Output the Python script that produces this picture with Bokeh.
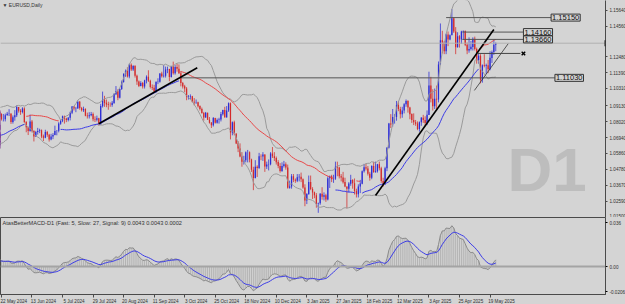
import numpy as np
from bokeh.plotting import figure
from bokeh.layouts import column
from bokeh.models import Range1d, FixedTicker, Label, Span
from bokeh.embed import file_html
from bokeh.resources import INLINE

# ---------------- data: EURUSD daily ----------------
# warm-up bars (8 Apr - 21 May 2024), left of the visible window
warm_high = [1.0868,1.0885,1.0866,1.0756,1.0734,1.0668,1.0638,1.0690,1.0690,1.0678,1.0666,1.0713,1.0733,1.0752,1.0737,1.0730,
             1.0728,1.0720,1.0730,1.0812,1.0790,1.0780,1.0760,1.0790,1.0804,1.0799,1.0826,1.0887,1.0895,1.0879,1.0889,1.0866]
warm_low = [1.0826,1.0838,1.0728,1.0698,1.0622,1.0622,1.0601,1.0610,1.0635,1.0610,1.0624,1.0635,1.0688,1.0695,1.0675,1.0680,
            1.0663,1.0650,1.0680,1.0722,1.0755,1.0745,1.0722,1.0722,1.0758,1.0765,1.0775,1.0815,1.0853,1.0840,1.0848,1.0835]
warm_close = [1.0860,1.0857,1.0742,1.0727,1.0642,1.0625,1.0620,1.0672,1.0643,1.0655,1.0655,1.0703,1.0730,1.0730,1.0693,1.0720,
              1.0665,1.0712,1.0727,1.0760,1.0770,1.0754,1.0748,1.0782,1.0770,1.0790,1.0820,1.0880,1.0865,1.0870,1.0857,1.0855]
first_open = 1.0837

# visible bars, index 0 = 22 May 2024
high = [1.0861,1.0856,1.0859,1.0870,1.0889,1.0862,1.0846,1.0882,1.0915,1.0903,1.0889,1.0902,1.0902,1.0805,1.0770,1.0852,
        1.0815,1.0745,1.0740,1.0761,1.0755,1.0750,1.0715,1.0748,1.0740,1.0720,1.0720,1.0725,1.0776,1.0745,1.0800,1.0816,
        1.0845,1.0845,1.0830,1.0835,1.0871,1.0910,1.0910,1.0904,1.0948,1.0945,1.0904,1.0906,1.0895,1.0865,1.0868,1.0870,
        1.0866,1.0840,1.0845,1.0830,1.0925,1.1009,1.0980,1.0955,1.0940,1.0935,1.0945,1.0998,1.1047,1.1025,1.1030,1.1085,
        1.1135,1.1160,1.1175,1.1200,1.1202,1.1190,1.1190,1.1125,1.1085,1.1080,1.1075,1.1090,1.1120,1.1155,1.1090,1.1058,
        1.1055,1.1080,1.1100,1.1135,1.1145,1.1190,1.1180,1.1180,1.1165,1.1185,1.1214,1.1190,1.1200,1.1195,1.1150,1.1075,
        1.1055,1.1040,1.0985,1.0990,1.0980,1.0965,1.0955,1.0940,1.0915,1.0900,1.0870,1.0870,1.0865,1.0835,1.0800,1.0835,
        1.0830,1.0825,1.0830,1.0870,1.0885,1.0905,1.0910,1.0935,1.0935,1.0805,1.0810,1.0725,1.0670,1.0655,1.0595,1.0570,
        1.0600,1.0610,1.0600,1.0550,1.0495,1.0540,1.0505,1.0590,1.0580,1.0595,1.0580,1.0530,1.0545,1.0595,1.0630,1.0595,
        1.0565,1.0540,1.0520,1.0525,1.0535,1.0525,1.0510,1.0400,1.0445,1.0445,1.0415,1.0445,1.0445,1.0455,1.0415,1.0375,
        1.0315,1.0435,1.0435,1.0355,1.0325,1.0315,1.0250,1.0315,1.0355,1.0320,1.0310,1.0430,1.0435,1.0440,1.0440,1.0530,
        1.0530,1.0495,1.0445,1.0460,1.0420,1.0360,1.0390,1.0440,1.0410,1.0415,1.0345,1.0375,1.0405,1.0470,1.0515,1.0515,
        1.0500,1.0460,1.0505,1.0530,1.0530,1.0515,1.0530,1.0495,1.0420,1.0495,1.0630,1.0795,1.0855,1.0890,1.0855,1.0945,
        1.0945,1.0905,1.0905,1.0930,1.0955,1.0950,1.0905,1.0860,1.0860,1.0815,1.0805,1.0805,1.0835,1.0850,1.0840,1.0880,
        1.1145,1.1110,1.1025,1.1030,1.1050,1.1215,1.1475,1.1425,1.1355,1.1405,1.1420,1.1400,1.1573,1.1515,1.1450,1.1415,
        1.1395,1.1425,1.1425,1.1425,1.1345,1.1380,1.1355,1.1380,1.1385,1.1310,1.1270,1.1265,1.1195,1.1265,1.1200,1.1225,
        1.1285,1.1290,1.1365,1.1345]
low = [1.0811,1.0805,1.0805,1.0845,1.0842,1.0788,1.0790,1.0810,1.0835,1.0865,1.0850,1.0860,1.0795,1.0731,1.0712,1.0735,
       1.0730,1.0668,1.0700,1.0715,1.0725,1.0690,1.0671,1.0690,1.0700,1.0667,1.0676,1.0684,1.0710,1.0710,1.0730,1.0782,
       1.0800,1.0790,1.0800,1.0805,1.0812,1.0855,1.0880,1.0868,1.0890,1.0885,1.0873,1.0870,1.0840,1.0825,1.0825,1.0840,
       1.0806,1.0801,1.0805,1.0777,1.0780,1.0900,1.0905,1.0902,1.0885,1.0905,1.0905,1.0925,1.0985,1.0950,1.0962,1.1020,
       1.1070,1.1110,1.1105,1.1100,1.1150,1.1150,1.1105,1.1055,1.1040,1.1045,1.1030,1.1030,1.1065,1.1075,1.1030,1.1020,
       1.1000,1.1000,1.1060,1.1070,1.1105,1.1105,1.1105,1.1135,1.1080,1.1105,1.1125,1.1125,1.1145,1.1130,1.1045,1.1030,
       1.1005,1.0950,1.0955,1.0955,1.0935,1.0915,1.0925,1.0900,1.0880,1.0860,1.0810,1.0830,1.0815,1.0790,1.0760,1.0770,
       1.0790,1.0790,1.0790,1.0805,1.0845,1.0830,1.0830,1.0870,1.0682,1.0710,1.0710,1.0650,1.0595,1.0560,1.0495,1.0510,
       1.0525,1.0525,1.0525,1.0460,1.0335,1.0415,1.0425,1.0480,1.0540,1.0535,1.0460,1.0480,1.0470,1.0505,1.0555,1.0535,
       1.0510,1.0485,1.0455,1.0460,1.0490,1.0475,1.0345,1.0345,1.0345,1.0390,1.0385,1.0390,1.0395,1.0390,1.0345,1.0225,
       1.0240,1.0305,1.0335,1.0275,1.0280,1.0215,1.0180,1.0235,1.0270,1.0265,1.0255,1.0265,1.0350,1.0390,1.0385,1.0405,
       1.0430,1.0415,1.0395,1.0380,1.0355,1.0210,1.0320,1.0365,1.0345,1.0305,1.0285,1.0285,1.0315,1.0375,1.0455,1.0470,
       1.0435,1.0400,1.0410,1.0455,1.0455,1.0455,1.0470,1.0385,1.0360,1.0370,1.0465,1.0620,1.0760,1.0770,1.0790,1.0810,
       1.0875,1.0825,1.0830,1.0860,1.0905,1.0865,1.0820,1.0795,1.0780,1.0775,1.0745,1.0735,1.0775,1.0795,1.0775,1.0780,
       1.0850,1.0935,1.0880,1.0890,1.0890,1.0935,1.1190,1.1270,1.1265,1.1265,1.1320,1.1360,1.1395,1.1410,1.1265,1.1310,
       1.1310,1.1335,1.1365,1.1320,1.1265,1.1275,1.1290,1.1290,1.1290,1.1200,1.1200,1.1065,1.1070,1.1175,1.1130,1.1135,
       1.1155,1.1205,1.1260,1.1285]
close = [1.0820,1.0820,1.0847,1.0857,1.0858,1.0802,1.0834,1.0848,1.0904,1.0878,1.0870,1.0893,1.0802,1.0765,1.0740,1.0805,
         1.0740,1.0703,1.0733,1.0740,1.0745,1.0703,1.0693,1.0733,1.0714,1.0681,1.0702,1.0713,1.0740,1.0741,1.0790,1.0810,
         1.0840,1.0825,1.0815,1.0830,1.0865,1.0907,1.0893,1.0895,1.0940,1.0897,1.0882,1.0890,1.0845,1.0840,1.0848,1.0855,
         1.0820,1.0817,1.0826,1.0790,1.0910,1.0953,1.0932,1.0922,1.0918,1.0917,1.0932,1.0992,1.1012,1.0967,1.1027,1.1075,
         1.1130,1.1150,1.1112,1.1193,1.1160,1.1184,1.1118,1.1078,1.1047,1.1068,1.1045,1.1087,1.1111,1.1084,1.1040,1.1035,
         1.1010,1.1075,1.1076,1.1132,1.1115,1.1118,1.1160,1.1163,1.1110,1.1180,1.1135,1.1178,1.1165,1.1135,1.1068,1.1045,
         1.1030,1.0975,1.0975,1.0977,1.0940,1.0935,1.0937,1.0910,1.0890,1.0862,1.0833,1.0865,1.0817,1.0797,1.0780,1.0828,
         1.0797,1.0815,1.0818,1.0855,1.0884,1.0834,1.0880,1.0930,1.0730,1.0800,1.0720,1.0655,1.0620,1.0565,1.0530,1.0540,
         1.0595,1.0595,1.0545,1.0475,1.0418,1.0495,1.0487,1.0567,1.0565,1.0578,1.0498,1.0510,1.0512,1.0585,1.0567,1.0555,
         1.0527,1.0500,1.0466,1.0500,1.0512,1.0490,1.0352,1.0360,1.0430,1.0407,1.0400,1.0423,1.0427,1.0410,1.0354,1.0265,
         1.0308,1.0390,1.0343,1.0320,1.0300,1.0243,1.0245,1.0310,1.0290,1.0300,1.0272,1.0417,1.0430,1.0410,1.0413,1.0495,
         1.0490,1.0430,1.0422,1.0390,1.0360,1.0345,1.0380,1.0405,1.0383,1.0330,1.0308,1.0360,1.0380,1.0465,1.0492,1.0483,
         1.0447,1.0420,1.0500,1.0458,1.0465,1.0513,1.0485,1.0398,1.0375,1.0485,1.0625,1.0790,1.0785,1.0835,1.0835,1.0918,
         1.0890,1.0855,1.0880,1.0923,1.0945,1.0900,1.0855,1.0815,1.0800,1.0790,1.0753,1.0800,1.0830,1.0815,1.0795,1.0850,
         1.1050,1.0960,1.0910,1.0960,1.0955,1.1195,1.1360,1.1345,1.1285,1.1400,1.1365,1.1395,1.1510,1.1420,1.1312,1.1387,
         1.1365,1.1420,1.1425,1.1330,1.1290,1.1300,1.1315,1.1370,1.1300,1.1225,1.1255,1.1090,1.1190,1.1185,1.1190,1.1163,
         1.1240,1.1280,1.1330,1.1340]

date_labels = ["22 May 2024", "13 Jun 2024", "5 Jul 2024", "29 Jul 2024", "20 Aug 2024", "11 Sep 2024",
               "3 Oct 2024", "25 Oct 2024", "18 Nov 2024", "10 Dec 2024", "3 Jan 2025", "27 Jan 2025",
               "18 Feb 2025", "12 Mar 2025", "3 Apr 2025", "25 Apr 2025", "19 May 2025"]
date_label_bars = [0, 16, 32, 48, 64, 80, 96, 112, 128, 144, 160, 176, 192, 208, 224, 240, 256]

price_ticks = [1.15640, 1.14560, 1.12480, 1.11390, 1.10310, 1.09130, 1.08020, 1.06940,
               1.05860, 1.04780, 1.03670, 1.02590, 1.01500]

# user drawn levels: (price, start bar, label bar)
levels = [1.15150, 1.14160, 1.13660, 1.11030]
level_start = [233, 241.5, 241.5, 94]
level_label_x = [288, 273.5, 273.5, 290]
# trend lines (bar, price) pairs
trend_x = [[51.0, 102.6], [196.0, 258.0]]
trend_y = [[1.0789, 1.1172], [1.0299, 1.1434]]
thin_x = [[247.8, 265.6]]
thin_y = [[1.1017, 1.1338]]
mark_level = 1.1270
mark_x = [249.4, 271.9]

macd_ticks = [0.036, 0.0, -0.0206]
macd_tick_text = ["0.036", "0.00", "-0.0206"]

# ---------------- derived series ----------------
H = np.array(warm_high + high)
L = np.array(warm_low + low)
C = np.array(warm_close + close)
O = np.concatenate(([first_open], C[:-1]))
H = np.maximum(H, np.maximum(O, C))
L = np.minimum(L, np.minimum(O, C))
X = np.arange(len(C)) - len(warm_close)


def sma(a, n):
    out = np.full(len(a), np.nan)
    cs = np.cumsum(a)
    out[n - 1:] = (cs[n - 1:] - np.concatenate(([0.0], cs[:-n]))) / n
    return out


def rstd(a, n):
    out = np.full(len(a), np.nan)
    for i in range(n - 1, len(a)):
        out[i] = np.std(a[i - n + 1:i + 1])
    return out


def ema(a, n):
    k = 2.0 / (n + 1)
    out = np.empty(len(a))
    out[0] = a[0]
    for i in range(1, len(a)):
        out[i] = out[i - 1] + k * (a[i] - out[i - 1])
    return out


mid = sma(C, 20)
sd = rstd(C, 20)
bb_up = mid + 2 * sd
bb_lo = mid - 2 * sd

hi_ma = sma(H, 30)
lo_ma = sma(L, 30)
trend = np.zeros(len(C))
state = 1
for i in range(len(C)):
    if i > 0 and not np.isnan(hi_ma[i - 1]):
        if C[i] > hi_ma[i - 1]:
            state = 1
        elif C[i] < lo_ma[i - 1]:
            state = -1
    trend[i] = state
blue_ma = np.where(trend > 0, lo_ma, np.nan)
red_ma = np.where(trend < 0, hi_ma, np.nan)

macd = ema(C, 5) - ema(C, 27)
signal = ema(macd, 9)

# ---------------- styling ----------------
BG = "#d4d4d4"
FONT = "Liberation Sans"
BULL = "#2b2bd6"
BEAR = "#d42a2a"
AX = "#4a4a4a"
x_range = Range1d(-0.5, 316.5)

p = figure(frame_width=605, frame_height=217, x_range=x_range, y_range=Range1d(1.0148, 1.1632),
           output_backend="svg", toolbar_location=None, x_axis_location=None, y_axis_location="right",
           min_border=0, background_fill_color=BG, border_fill_color=BG, outline_line_color=None)
p.grid.visible = False
ya = p.yaxis[0]
ya.ticker = FixedTicker(ticks=price_ticks)
ya.major_label_overrides = {t: f"{t:.5f}" for t in price_ticks}
ya.major_label_text_font = FONT
ya.major_label_text_font_size = "4.6px"
ya.major_label_text_color = "#303030"
ya.major_label_standoff = 2
ya.major_tick_in = 0
ya.major_tick_out = 2
ya.minor_tick_out = 0
ya.minor_tick_in = 0
ya.axis_line_color = AX
ya.major_tick_line_color = AX

# current price line
p.add_layout(Span(location=C[-1], dimension="width", line_color="#b0b0b0", line_width=1))

p.add_layout(Label(x=265.2, y=1.0709, text="D1", text_font=FONT, text_font_style="bold",
                   text_font_size="62px", text_color="#bdbdbd", text_baseline="top",
                   level="underlay"))

up = C >= O
col = np.where(up, BULL, BEAR)
p.segment(x0=X, y0=L, x1=X, y1=H, line_color=col, line_width=1, line_alpha=0.75)
p.vbar(x=X, width=0.65, top=np.maximum(O, C), bottom=np.minimum(O, C) - 0.00004,
       fill_color=col, line_color=None)

p.line(X, bb_up, line_color="#9a9a9a", line_width=1)
p.line(X, bb_lo, line_color="#9a9a9a", line_width=1)
p.line(X, red_ma, line_color="#e84848", line_width=1)
p.line(X, blue_ma, line_color="#3c3ce6", line_width=1)

for lv, xs, xl in zip(levels, level_start, level_label_x):
    p.segment(x0=[xs], y0=[lv], x1=[xl], y1=[lv], line_color="#555555", line_width=1)
    p.add_layout(Label(x=xl, y=lv, text=f"{lv:.5f}", text_font=FONT, text_font_size="7.5px",
                       text_color="#111111", text_baseline="middle", text_align="left",
                       border_line_color="#333333", border_line_width=1,
                       background_fill_color=BG, padding=1))

p.multi_line(xs=trend_x, ys=trend_y, line_color="black", line_width=1.6)
p.multi_line(xs=thin_x, ys=thin_y, line_color="#333333", line_width=0.8)
p.segment(x0=[mark_x[0]], y0=[mark_level], x1=[mark_x[1]], y1=[mark_level], line_color="#444444", line_width=1)
p.scatter(x=[mark_x[1] + 1.6], y=[mark_level], marker="x", size=5, line_color="black", line_width=1.4)

p.add_layout(Label(x=-0.5, y=1.1632, x_offset=2, y_offset=-1, text="\u25BC EURUSD,Daily", text_font=FONT,
                   text_font_size="5px", text_color="#333333", text_baseline="top"))
p.add_layout(Label(x=316.5, y=C[-1], x_offset=-1, text=f"{C[-1]:.5f}", text_font=FONT,
                   text_font_size="4.6px", text_color="#eeeeee", text_baseline="middle",
                   background_fill_color="#202020", padding=1))

# ---------------- MACD panel ----------------
q = figure(frame_width=605, frame_height=77, x_range=x_range, y_range=Range1d(-0.0229, 0.0401),
           output_backend="svg", toolbar_location=None, y_axis_location="right",
           min_border=0, background_fill_color=BG, border_fill_color=BG,
           outline_line_color=AX, outline_line_width=1)
q.grid.visible = False
q.add_layout(Span(location=0, dimension="width", line_color="#a4a4a4", line_width=2))
q.segment(x0=X, y0=np.zeros(len(X)), x1=X, y1=macd, line_color="#ababab", line_width=0.8)
q.line(X, macd, line_color="#8a8a8a", line_width=1)
q.line(X, signal, line_color="#3c3ce6", line_width=1)
q.add_layout(Label(x=-0.5, y=0.0401, x_offset=2, y_offset=-2,
                   text="AtasBetterMACD-D1 (Fast: 5, Slow: 27, Signal: 9) 0.0043 0.0043 0.0002",
                   text_font=FONT, text_font_size="5.6px", text_color="#333333", text_baseline="top"))

qy = q.yaxis[0]
qy.ticker = FixedTicker(ticks=macd_ticks)
qy.major_label_overrides = dict(zip(macd_ticks, macd_tick_text))
qy.major_label_text_font = FONT
qy.major_label_text_font_size = "4.6px"
qy.major_label_text_color = "#303030"
qy.major_label_standoff = 2
qy.major_tick_in = 0
qy.major_tick_out = 2
qy.minor_tick_out = 0
qy.axis_line_color = AX

qx = q.xaxis[0]
label_pos = [b + 6 for b in date_label_bars]
qx.ticker = FixedTicker(ticks=label_pos, minor_ticks=date_label_bars)
qx.major_label_overrides = dict(zip(label_pos, date_labels))
qx.major_label_text_font = FONT
qx.major_label_text_font_size = "4.6px"
qx.major_label_text_color = "#303030"
qx.major_label_standoff = 1
qx.major_tick_out = 0
qx.major_tick_in = 0
qx.minor_tick_out = 3
qx.minor_tick_in = 0
qx.minor_tick_line_color = AX
qx.axis_line_color = AX

layout = column(p, q, spacing=0, styles={"background-color": BG})
open("out.html", "w").write(file_html(layout, INLINE))
